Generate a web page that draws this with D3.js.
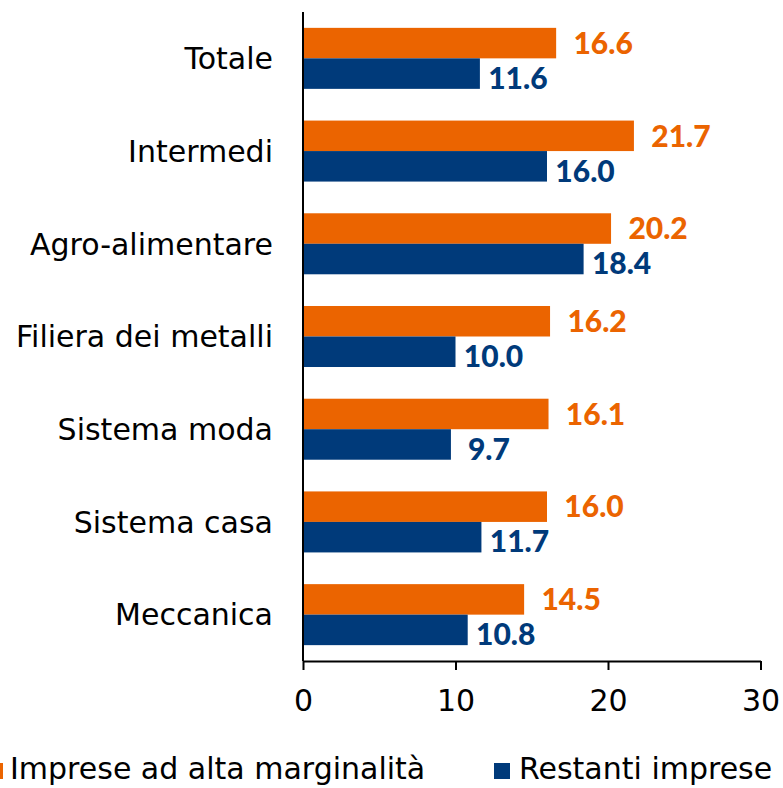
<!DOCTYPE html>
<html><head><meta charset="utf-8">
<script src="https://cdn.jsdelivr.net/npm/d3@7/dist/d3.min.js"></script>
<style>body{margin:0;background:#fff}svg{display:block}</style>
</head><body>
<svg id="c" width="783" height="788"></svg>
<script>
const categories = ["Totale","Intermedi","Agro-alimentare","Filiera dei metalli","Sistema moda","Sistema casa","Meccanica"];
const seriesNames = ["Imprese ad alta marginalità","Restanti imprese"];
const altaMarginalita = [16.6,21.7,20.2,16.2,16.1,16.0,14.5];
const restanti = [11.6,16.0,18.4,10.0,9.7,11.7,10.8];
const xTicks = [0,10,20,30];
const colors = ["#EB6400","#003A7A"];

const svg = d3.select("#c");
const x = d3.scaleLinear().domain([0,30]).range([303,760.5]);
const y = d3.scaleBand().domain(categories).range([12,661]).paddingInner(0.342).paddingOuter(0.171);
const ys = d3.scaleBand().domain([0,1]).range([0,y.bandwidth()]);
const series = [altaMarginalita, restanti];
const regFont = "'DejaVu Sans', sans-serif";
const boldFont = "Lato, 'DejaVu Sans', sans-serif";

// bars
series.forEach((vals,s)=>{
  svg.append("g").selectAll("rect").data(categories).join("rect")
    .attr("x", x(0))
    .attr("y", c=>y(c)+ys(s))
    .attr("width", (c,i)=>x(vals[i])-x(0))
    .attr("height", ys.bandwidth())
    .attr("fill", colors[s]);
});

// value labels
const offX = [47,38], offY = [0,4.5];
series.forEach((vals,s)=>{
  svg.append("g").selectAll("text").data(categories).join("text")
    .attr("x",(c,i)=>x(vals[i])+offX[s])
    .attr("y",(c)=>y(c)+ys(s)+ys.bandwidth()/2+offY[s])
    .attr("dy","0.36em")
    .attr("text-anchor","middle")
    .attr("font-family",boldFont).attr("font-weight",900).attr("font-size",30)
    .attr("fill",colors[s])
    .text((c,i)=>vals[i].toFixed(1));
});

// y axis line
svg.append("line").attr("x1",x(0)).attr("x2",x(0)).attr("y1",12).attr("y2",661)
  .attr("stroke","#000").attr("stroke-width",2);

// category labels
svg.append("g").selectAll("text").data(categories).join("text")
  .attr("x",273).attr("y",c=>y(c)+y.bandwidth()/2)
  .attr("dy","0.36em").attr("text-anchor","end")
  .attr("font-family",regFont).attr("font-size",30).attr("fill","#000")
  .text(c=>c);

// x axis
const xa = svg.append("g").attr("transform","translate(0,661)")
  .call(d3.axisBottom(x).tickValues(xTicks).tickSize(9).tickSizeOuter(0).tickPadding(20));
xa.select(".domain").attr("stroke","#000").attr("stroke-width",2);
xa.selectAll(".tick line").attr("stroke","#000").attr("stroke-width",2);
xa.selectAll(".tick text").attr("font-family",regFont).attr("font-size",30).attr("fill","#000")
  .attr("dy","0.71em");

// legend
const leg = [{x:-13,tx:10},{x:494,tx:519}];
seriesNames.forEach((n,s)=>{
  svg.append("rect").attr("x",leg[s].x).attr("y",763).attr("width",16).attr("height",16).attr("fill",colors[s]);
  svg.append("text").attr("x",leg[s].tx).attr("y",779)
    .attr("font-family",regFont).attr("font-size",30).attr("fill","#000").text(n);
});
</script>
</body></html>
